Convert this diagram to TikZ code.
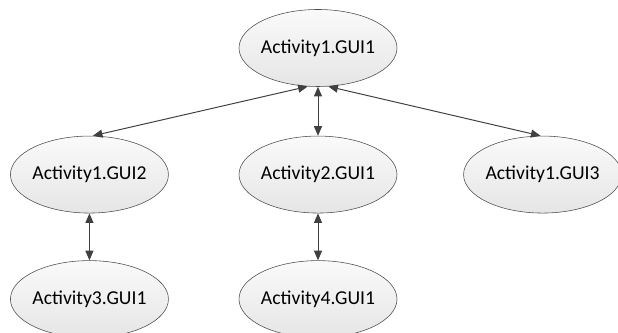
\documentclass[tikz,border=0pt]{standalone}
\usepackage{fontspec}
\setmainfont{Carlito}
\usepackage{tikz}
\usetikzlibrary{shapes.geometric, arrows.meta, positioning}

\begin{document}
\begin{tikzpicture}[
  font=\fontsize{14}{16}\selectfont,
  gui/.style  = {ellipse, draw=black!70, thin, inner xsep=-4pt, inner ysep=0pt,
                 minimum width=3.95cm, minimum height=1.925cm,
                 top color=black!2, bottom color=black!10, align=center},
  link/.style = {{Triangle[length=2.4mm,width=2mm]}-{Triangle[length=2.4mm,width=2mm]},
                 line width=0.7pt, black!75}
]
\useasboundingbox (0,0) rectangle (15.45,8.325);

% ---------- activities ----------
\node[gui] (a1g1) at (7.95,7.125) {Activity1.GUI1};
\node[gui, below=1.225cm of a1g1] (a2g1) {Activity2.GUI1};
\node[gui, left=1.75cm of a2g1]   (a1g2) {Activity1.GUI2};
\node[gui, right=1.65cm of a2g1]  (a1g3) {Activity1.GUI3};
\node[gui, below=1.175cm of a1g2] (a3g1) {Activity3.GUI1};
\node[gui, below=1.175cm of a2g1] (a4g1) {Activity4.GUI1};

% ---------- transitions ----------
\draw[link] (a1g1.255) -- (a1g2.85);
\draw[link] (a1g1.south) -- (a2g1.north);
\draw[link] (a1g1.285) -- (a1g3.93);
\draw[link] (a1g2) -- (a3g1);
\draw[link] (a2g1) -- (a4g1);

\end{tikzpicture}
\end{document}
